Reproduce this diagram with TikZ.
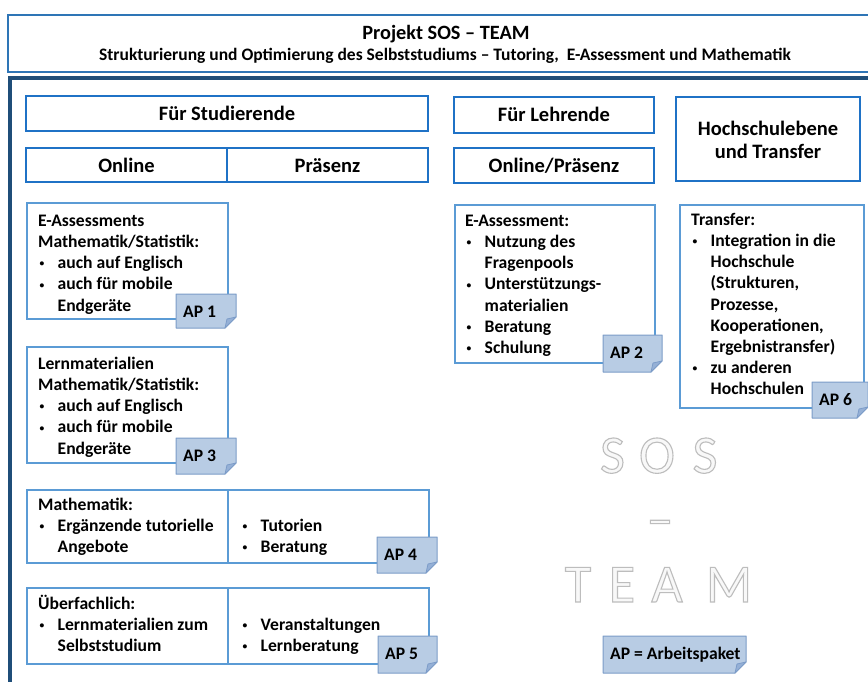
\documentclass[tikz,border=0pt]{standalone}
\usepackage{fontspec}
\setmainfont{Carlito}
\usetikzlibrary{calc}
\definecolor{titleblue}{HTML}{2E75B6}
\definecolor{frameblue}{HTML}{1F4E79}
\definecolor{hdrblue}{HTML}{1F72C6}
\definecolor{boxblue}{HTML}{5B9BD5}
\definecolor{tagfill}{HTML}{B8CCE4}
\definecolor{tagline}{HTML}{7C9CC8}
\definecolor{tagfold}{HTML}{95B0D6}
\definecolor{wmfill}{HTML}{F8F8F8}
\newcommand\bul{\makebox[19.5pt][l]{\hspace{1.5pt}\raisebox{1.8pt}{\fontsize{9.5}{10}\selectfont\textbullet}}}
\newcommand\ind{\hspace*{19.5pt}}
\newcommand\outlined[1]{\textcolor{wmfill}{\special{pdf:literal direct 2 Tr 1.1 w 0.74 0.74 0.74 RG}#1\special{pdf:literal direct 0 Tr}}}
% #1 name, #2 x1, #3 y1, #4 x2, #5 y2, #6 text
\newcommand\aptag[6]{%
  \filldraw[tagshape] (#2,#3) -- (#4,#3) -- (#4,#5-11) -- (#4-11,#5) -- (#2,#5) -- cycle;
  \filldraw[tagfoldshape] (#4,#5-11) -- (#4-11,#5) -- (#4-9,#5-9) -- cycle;
  \node[tagtext] (#1) at (#2+7,#3+23) {#6};}
% #1 name, #2 x, #3 baseline, #4 letter
\newcommand\wmletter[4]{%
  \node[wm] (#1) at (#2,#3) {\outlined{#4}};}
\begin{document}
\begin{tikzpicture}[x=1pt,y=-1pt,
  hbox/.style={draw=hdrblue, line width=2.2pt, inner sep=0pt,
    font=\fontsize{20.5}{23.3}\selectfont\bfseries, text height=16pt, text depth=2pt},
  cbox/.style={draw=boxblue, line width=1.4pt},
  body/.style={anchor=north west, inner sep=0pt, align=left,
    font=\fontsize{17.6}{21.2}\selectfont\bfseries},
  tagshape/.style={fill=tagfill, draw=tagline, line width=1pt, line join=round},
  tagfoldshape/.style={fill=tagfold, draw=tagline, line width=0.8pt, line join=round},
  tagtext/.style={anchor=base west, inner sep=0pt, font=\fontsize{17.6}{21}\selectfont\bfseries},
  wm/.style={anchor=base, inner sep=0pt, font=\fontsize{54}{60}\selectfont}]
\useasboundingbox (0,0) rectangle (868,682);
\fill[white] (0,0) rectangle (868,682);
\clip (0,0) rectangle (868,682);

% title
\draw[titleblue, line width=2pt] (8,15) rectangle (885,72);
\node[anchor=base, inner sep=0pt, font=\fontsize{20.3}{24}\selectfont\bfseries] (t1) at (446,40) {Projekt SOS – TEAM};
\node[anchor=base, inner sep=0pt, font=\fontsize{17.5}{21}\selectfont\bfseries] (t2) at (445,61) {Strukturierung und Optimierung des Selbststudiums – Tutoring,~ E-Assessment und Mathematik};

% dark frame
\draw[frameblue, line width=3.5pt] (10,700) -- (10,78) -- (890,78);

% headers
\node[hbox, minimum width=402pt, minimum height=35pt] (fs) at (227,113.5) {Für Studierende};
\node[hbox, minimum width=201pt, minimum height=34pt] (on) at (126.5,165) {Online};
\node[hbox, minimum width=201pt, minimum height=34pt] (pr) at (327.5,165) {Präsenz};
\node[hbox, minimum width=200pt, minimum height=36pt] (fl) at (554,115) {Für Lehrende};
\node[hbox, minimum width=200pt, minimum height=35pt] (op) at (554,165.5) {Online/Präsenz};
\node[hbox, minimum width=184pt, minimum height=84pt] (ht) at (768,139) {};
\node[anchor=north, inner sep=0pt, align=center, font=\fontsize{20.5}{23.3}\selectfont\bfseries] (htt) at (768,118.5) {\strut Hochschulebene\\und Transfer};

% AP1
\draw[cbox] (27,203) rectangle (228,319);
\node[body] (b1) at (38,211.16) {\strut E-Assessments\\Mathematik/Statistik:\\\bul auch auf Englisch\\\bul auch für mobile\\\ind Endgeräte};
\aptag{ap1}{176}{294}{236}{328}{AP 1}

% AP3
\draw[cbox] (27,347) rectangle (228,463);
\node[body] (b3) at (38,354.16) {\strut Lernmaterialien\\Mathematik/Statistik:\\\bul auch auf Englisch\\\bul auch für mobile\\\ind Endgeräte};
\aptag{ap3}{176}{438}{236}{474}{AP 3}

% AP4
\draw[cbox] (27,490) rectangle (429,563);
\draw[cbox] (228,490) -- (228,563);
\node[body] (b4l) at (38,495.16) {\strut Mathematik:\\\bul Ergänzende tutorielle\\\ind Angebote};
\node[body] (b4r) at (241,516.16) {\strut\bul Tutorien\\\bul Beratung};
\aptag{ap4}{377}{537}{437}{573}{AP 4}

% AP5
\draw[cbox] (27,588) rectangle (429,664);
\draw[cbox] (228,588) -- (228,664);
\node[body] (b5l) at (38,594.16) {\strut Überfachlich:\\\bul Lernmaterialien zum\\\ind Selbststudium};
\node[body] (b5r) at (241,615.16) {\strut\bul Veranstaltungen\\\bul Lernberatung};
\aptag{ap5}{378}{636}{437}{673}{AP 5}

% AP2
\draw[cbox] (455,205) rectangle (655,363);
\node[body] (b2) at (465,211.16) {\strut E-Assessment:\\\bul Nutzung des\\\ind Fragenpools\\\bul Unterstützungs-\\\ind materialien\\\bul Beratung\\\bul Schulung};
\aptag{ap2}{603}{335}{662}{372}{AP 2}

% AP6
\draw[cbox] (680,205) rectangle (864,408);
\node[body] (b6) at (691,210.16) {\strut Transfer:\\\bul Integration in die\\\ind Hochschule\\\ind (Strukturen,\\\ind Prozesse,\\\ind Kooperationen,\\\ind Ergebnistransfer)\\\bul zu anderen\\\ind Hochschulen};
\aptag{ap6}{812}{382}{868}{418}{AP 6}

% watermark
\wmletter{wa}{612.5}{473}{S}
\wmletter{wb}{657}{473}{O}
\wmletter{wc}{705}{473}{S}
\wmletter{wd}{660}{537}{–}
\wmletter{we}{578}{602}{T}
\wmletter{wf}{622}{602}{E}
\wmletter{wg}{667}{602}{A}
\wmletter{wh}{729}{602}{M}

% legend
\aptag{leg}{603}{636}{746}{673}{AP = Arbeitspaket}
\end{tikzpicture}
\end{document}
